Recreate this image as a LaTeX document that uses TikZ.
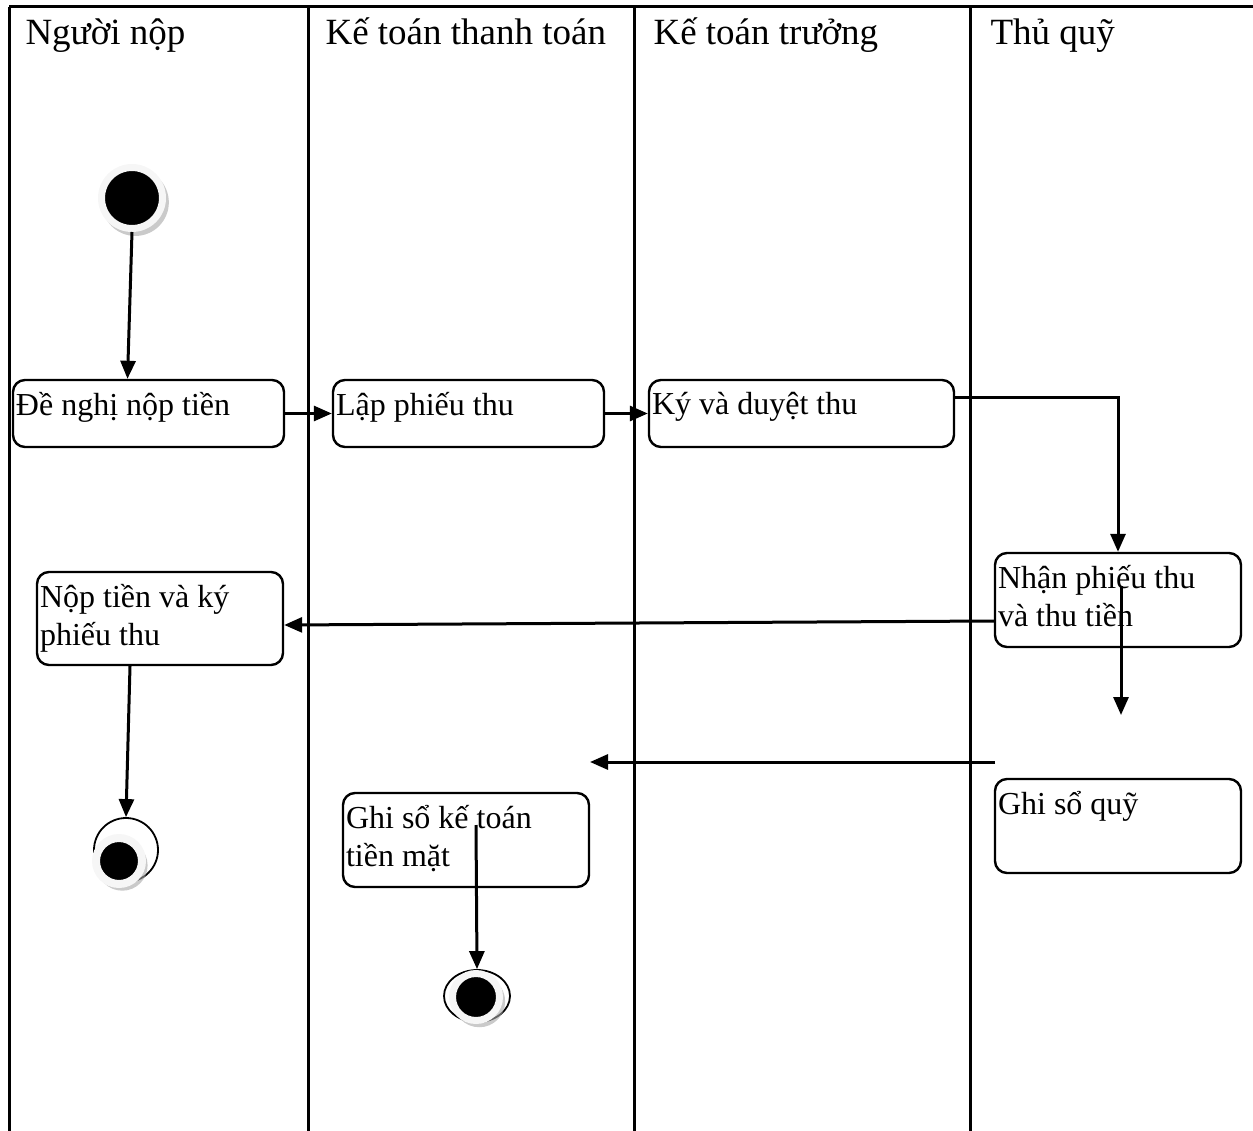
\documentclass[tikz,border=0pt]{standalone}
\usepackage{fontspec}
\setmainfont{Liberation Serif}
\usetikzlibrary{arrows.meta,calc,shapes.geometric,shadows,positioning}

\begin{document}
\begin{tikzpicture}[x=1pt,y=-1pt,
  lane/.style={line width=3pt},
  hd/.style={anchor=base west, font=\fontsize{37}{44}\selectfont},
  act/.style={draw, line width=2.4pt, rounded corners=12pt, inner sep=0pt},
  lbl/.style={anchor=north west, align=left, inner xsep=4pt, inner ysep=13pt, font=\fontsize{32}{38}\selectfont},
  flow/.style={line width=3pt, -{Triangle[length=18pt,width=15pt]}},
  dot/.style={circle, inner sep=0pt, fill=black, draw=gray!7, line width=7pt,
    drop shadow={shadow xshift=3pt, shadow yshift=-4pt, shadow scale=1.1, fill=gray!70, opacity=.6}},
  stop/.style={draw, line width=1.8pt, inner sep=0pt}]
\useasboundingbox (0,0) rectangle (1253,1131);

% swimlanes
\draw[lane] (9,7) -- (1253,7);
\foreach \x in {9,308,634,970}
  \draw[lane] (\x,7) -- (\x,1131);
\node[hd] (hd1) at (22,45) {Người nộp};
\node[hd] (hd2) at (322,45) {Kế toán thanh toán};
\node[hd] (hd3) at (650,45) {Kế toán trưởng};
\node[hd] (hd4) at (987,45) {Thủ quỹ};

% activities
\node[act, minimum width=271pt, minimum height=67pt, label={[lbl]north west:Đề nghị nộp tiền}] (denghi) at (148.5,413.5) {};
\node[act, minimum width=271pt, minimum height=67pt, label={[lbl]north west:Lập phiếu thu}] (lap) at (468.5,413.5) {};
\node[act, minimum width=305pt, minimum height=67pt, label={[lbl]north west:Ký và duyệt thu}] (ky) at (801.5,413.5) {};
\node[act, minimum width=246pt, minimum height=94pt, label={[lbl]north west:{Nhận phiếu thu\\và thu tiền}}] (nhan) at (1118,600) {};
\node[act, minimum width=246pt, minimum height=93pt, label={[lbl]north west:{Nộp tiền và ký\\phiếu thu}}] (noptien) at (160,618.5) {};
\node[act, minimum width=246pt, minimum height=94pt, label={[lbl]north west:{Ghi sổ kế toán\\tiền mặt}}] (ghisokt) at (466,840) {};
\node[act, minimum width=246pt, minimum height=94pt, label={[lbl]north west:Ghi sổ quỹ}] (ghisoquy) at (1118,826) {};

% start and end
\node[dot, minimum size=61pt] (start) at (132,198) {};
\node[stop, circle, minimum size=64pt] (end1) at (126,850) {};
\node[dot, line width=8pt, minimum size=46pt] (end1dot) at (119,861) {};
\node[stop, ellipse, minimum width=66pt, minimum height=52pt] (end2) at (477,996) {};
\node[dot, minimum size=47pt] (end2dot) at (476,997) {};

\coordinate (q1) at (1121,715);
\coordinate (q2) at (995,762);
\coordinate (q3) at (590,762);

% flows
\draw[flow] (start.south) -- ($(denghi.north)+(-21,0)$);
\draw[flow] (denghi.east) -- (lap.west);
\draw[flow] (lap.east) -- (ky.west);
\draw[flow] ($(ky.east)+(0,-16)$) -| (nhan.north);
\draw[flow] ($(nhan.west)+(0,21)$) -- ($(noptien.east)+(0,6.5)$);
\draw[flow] ($(nhan.north)+(3,34)$) -- (q1);
\draw[flow] (q2) -- (q3);
\draw[flow] ($(noptien.south)+(-30,0)$) -- (end1.north);
\draw[flow] ($(ghisokt.center)+(10,-15)$) -- (end2.north);
\end{tikzpicture}
\end{document}
